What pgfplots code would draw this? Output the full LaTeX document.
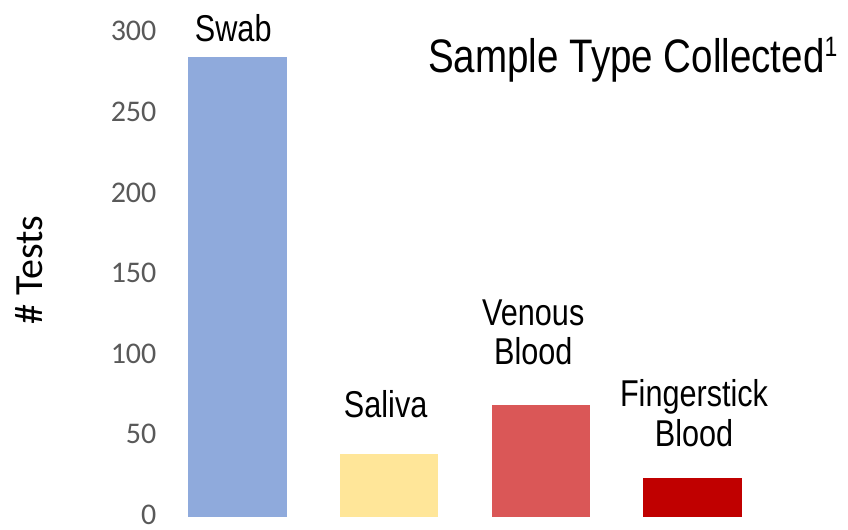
\documentclass[border=0pt]{standalone}
\usepackage{pgfplots}
\pgfplotsset{compat=1.18}
\usepackage{fontspec}
\setmainfont{Liberation Sans}
\newfontfamily\narrow[FakeStretch=0.82]{Liberation Sans}
\newfontfamily\calib{Carlito}
\definecolor{cSwab}{HTML}{8FAADC}
\definecolor{cSaliva}{HTML}{FFE699}
\definecolor{cVenous}{HTML}{DA5757}
\definecolor{cFinger}{HTML}{C00000}
\definecolor{tickgray}{HTML}{595959}
\begin{document}
\begin{tikzpicture}
\path[use as bounding box] (0,0) rectangle (636pt,396.75pt);
\begin{axis}[
  at={(121.25pt,9.375pt)}, anchor=south west,
  scale only axis, width=455pt, height=362.625pt,
  xmin=-0.5, xmax=3.5, ymin=0, ymax=300,
  ytick={0,50,100,150,200,250,300},
  xtick=\empty,
  axis line style={draw=none},
  tick style={draw=none},
  clip=false,
  ybar, bar width=73.9pt,
  /pgf/number format/assume math mode=true,
  yticklabel style={anchor=east, inner sep=0pt, xshift=-3.75pt, yshift=1.3pt,
    font=\calib\fontsize{22.5pt}{22.5pt}\selectfont, text=tickgray},
]
\addplot[fill=cSwab, draw=none, bar shift=0pt] coordinates {(0,285)};
\addplot[fill=cSaliva, draw=none, bar shift=0pt] coordinates {(1,39)};
\addplot[fill=cVenous, draw=none, bar shift=0pt] coordinates {(2,69)};
\addplot[fill=cFinger, draw=none, bar shift=0pt] coordinates {(3,24)};
\begin{scope}[every node/.style={anchor=south, inner sep=0pt, align=center,
   font=\narrow\fontsize{28pt}{29.5pt}\selectfont}]
\node at (axis cs:-0.028,294.5) {Swab};
\node at (axis cs:0.977,61) {Saliva};
\node at (axis cs:1.95,94) {Venous\\Blood};
\node at (axis cs:3.01,43.3) {Fingerstick\\Blood};
\end{scope}
\end{axis}
\node[anchor=base west, inner sep=0pt, font=\narrow\fontsize{35.25pt}{36pt}\selectfont]
  at (321pt,342pt) {Sample Type Collected\raisebox{12pt}{\fontsize{21pt}{21pt}\selectfont 1}};
\node[anchor=base, rotate=90, inner sep=0pt, font=\calib\fontsize{30pt}{30pt}\selectfont]
  at (31.5pt,194.25pt) {\# Tests};
\end{tikzpicture}
\end{document}
